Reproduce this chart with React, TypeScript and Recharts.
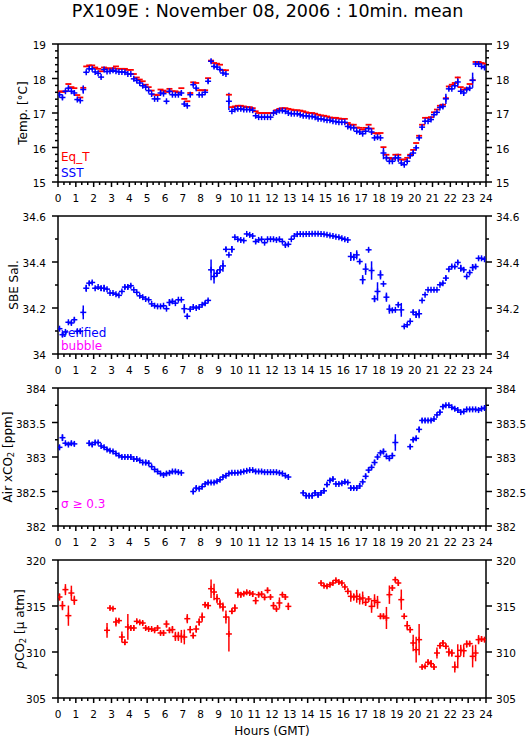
import React from 'react'
import { ComposedChart, Scatter, ErrorBar, XAxis, YAxis, Legend } from 'recharts'

const FONT = '"DejaVu Sans", Verdana, sans-serif'
const RED = '#ff0000'
const BLUE = '#0000ff'
const MAGENTA = '#ff00ff'

// time axis labels (hours GMT)
const hours = [0, 1, 2, 3, 4, 5, 6, 7, 8, 9, 10, 11, 12, 13, 14, 15, 16, 17, 18, 19, 20, 21, 22, 23, 24]

// major y ticks per panel
const tempTicks = [15, 16, 17, 18, 19]
const salTicks = [34, 34.2, 34.4, 34.6]
const airTicks = [382, 382.5, 383, 383.5, 384]
const pco2Ticks = [305, 310, 315, 320]

// 10-minute means, six per hour from 00:00 GMT (null = no data)
// Eq_T [°C]
const eqT = [
  17.63, 17.61, 17.63, 17.84, 17.75, 17.72,
  17.52, 17.45, 17.73, 18.35, 18.38, 18.38,
  18.32, 18.28, 18.21, 18.32, 18.30, 18.28,
  18.30, 18.35, 18.28, 18.28, 18.28, 18.25,
  18.25, 18.13, 18.03, 17.97, 17.92, 17.82,
  17.75, 17.65, 17.53, 17.52, 17.68, 17.65,
  17.61, 17.70, 17.63, 17.63, 17.60, 17.72,
  17.41, 17.34, 17.58, 17.89, 17.87, 17.66,
  17.66, 17.66, 18.01, 18.52, 18.45, 18.43,
  18.40, 18.24, 18.24, 17.53, 17.17, 17.19,
  17.21, 17.21, 17.19, 17.17, 17.17, 17.14,
  17.05, 17.00, 17.00, 17.00, 17.00, 17.00,
  17.00, 17.08, 17.12, 17.14, 17.14, 17.12,
  17.10, 17.08, 17.08, 17.07, 17.05, 17.02,
  17.00, 17.00, 16.98, 16.95, 16.93, 16.92,
  16.90, 16.87, 16.86, 16.86, 16.84, 16.83,
  16.83, 16.71, 16.66, 16.66, 16.58, 16.57,
  16.52, 16.57, 16.66, 16.55, 16.42, 16.40,
  16.42, 16.01, 15.79, 15.70, 15.67, 15.79,
  15.79, 15.65, 15.65, 15.70, 15.79, 15.93,
  16.13, 16.34, 16.66, 16.86, 16.86, 16.88,
  17.02, 17.10, 17.21, 17.24, 17.43, 17.77,
  17.82, 17.87, 18.03, 17.75, 17.68, 17.72,
  17.84, 17.95, 18.48, 18.48, 18.45, 18.43,
]

// SST [°C]
const sst = [
  17.53, 17.45, 17.63, 17.72, 17.63, 17.58,
  17.39, 17.36, 17.68, 18.18, 18.28, 18.28,
  18.19, 18.15, 18.04, 18.26, 18.20, 18.21,
  18.24, 18.21, 18.19, 18.19, 18.18, 18.13,
  18.13, 17.99, 17.94, 17.87, 17.79, 17.75,
  17.65, 17.55, 17.41, 17.41, 17.58, 17.56,
  17.34, 17.63, 17.53, 17.53, 17.53, 17.58,
  17.26, 17.21, 17.53, 17.82, 17.72, 17.53,
  17.53, 17.60, 17.92, 18.50, 18.35, 18.33,
  18.26, 18.16, 18.13, 17.34, 17.05, 17.10,
  17.12, 17.12, 17.10, 17.10, 17.10, 17.08,
  16.92, 16.88, 16.88, 16.88, 16.88, 16.88,
  17.00, 17.03, 17.07, 17.07, 17.05, 17.00,
  16.98, 16.98, 16.98, 16.95, 16.92, 16.92,
  16.90, 16.90, 16.88, 16.83, 16.83, 16.81,
  16.79, 16.79, 16.76, 16.75, 16.73, 16.73,
  16.73, 16.61, 16.58, 16.57, 16.47, 16.45,
  16.40, 16.47, 16.55, 16.45, 16.28, 16.30,
  16.28, 15.84, 15.70, 15.60, 15.60, 15.70,
  15.70, 15.55, 15.50, 15.60, 15.76, 15.84,
  15.99, 16.28, 16.59, 16.76, 16.76, 16.81,
  16.95, 17.02, 17.16, 17.19, 17.41, 17.70,
  17.70, 17.79, 17.90, 17.63, 17.58, 17.68,
  17.72, 17.95, 18.42, 18.42, 18.35, 18.32,
]

const sstErr = [
  0.03, 0.06, 0.03, 0.04, 0.03, 0.06,
  0.03, 0.03, 0.12, 0.03, 0.03, 0.03,
  0.03, 0.02, 0.03, 0.05, 0.02, 0.02,
  0.02, 0.02, 0.02, 0.02, 0.02, 0.02,
  0.03, 0.02, 0.02, 0.02, 0.02, 0.02,
  0.02, 0.02, 0.03, 0.03, 0.06, 0.02,
  0.03, 0.06, 0.03, 0.03, 0.03, 0.06,
  0.05, 0.04, 0.06, 0.03, 0.05, 0.03,
  0.02, 0.03, 0.06, 0.05, 0.05, 0.04,
  0.04, 0.03, 0.03, 0.25, 0.02, 0.02,
  0.02, 0.02, 0.02, 0.02, 0.02, 0.02,
  0.02, 0.02, 0.02, 0.02, 0.02, 0.02,
  0.02, 0.02, 0.02, 0.02, 0.02, 0.02,
  0.02, 0.02, 0.02, 0.02, 0.02, 0.02,
  0.02, 0.02, 0.02, 0.02, 0.02, 0.02,
  0.02, 0.02, 0.02, 0.02, 0.02, 0.02,
  0.02, 0.03, 0.02, 0.02, 0.03, 0.02,
  0.03, 0.02, 0.03, 0.04, 0.04, 0.04,
  0.02, 0.18, 0.06, 0.03, 0.03, 0.04,
  0.12, 0.04, 0.03, 0.04, 0.04, 0.08,
  0.05, 0.05, 0.08, 0.03, 0.02, 0.03,
  0.03, 0.03, 0.02, 0.05, 0.15, 0.04,
  0.03, 0.04, 0.15, 0.06, 0.05, 0.04,
  0.06, 0.22, 0.03, 0.03, 0.03, 0.03,
]

// SBE salinity
const sal = [
  34.110, 34.084, 34.096, 34.138, 34.135, 34.149,
  34.099, 34.099, 34.181, 34.286, 34.308, 34.311,
  34.286, 34.291, 34.286, 34.286, 34.282, 34.265,
  34.265, 34.260, 34.255, 34.272, 34.291, 34.291,
  34.297, 34.279, 34.268, 34.253, 34.247, 34.239,
  34.236, 34.218, 34.210, 34.207, 34.207, 34.210,
  34.197, 34.224, 34.229, 34.221, 34.236, 34.236,
  34.197, 34.164, 34.195, 34.204, 34.200, 34.204,
  34.214, 34.221, 34.233, 34.366, 34.337, 34.351,
  34.366, 34.383, 34.455, 34.431, 34.455, 34.508,
  34.499, 34.496, 34.493, 34.522, 34.518, 34.513,
  34.489, 34.496, 34.499, 34.484, 34.499, 34.499,
  34.499, 34.496, 34.499, 34.489, 34.474, 34.477,
  34.499, 34.513, 34.521, 34.522, 34.521, 34.522,
  34.522, 34.523, 34.523, 34.523, 34.522, 34.521,
  34.518, 34.515, 34.513, 34.510, 34.508, 34.503,
  34.499, 34.496, 34.424, 34.421, 34.431, 34.402,
  34.323, 34.369, 34.453, 34.363, 34.240, 34.272,
  34.344, 34.305, 34.247, 34.195, 34.190, 34.192,
  34.214, 34.192, 34.120, 34.127, 34.142, 34.182,
  34.171, 34.175, 34.233, 34.258, 34.279, 34.279,
  34.279, 34.279, 34.301, 34.308, 34.330, 34.369,
  34.380, 34.380, 34.398, 34.373, 34.366, 34.337,
  34.354, 34.376, 34.380, 34.416, 34.416, 34.412,
]

const salErr = [
  0.005, 0.010, 0.005, 0.005, 0.008, 0.010,
  0.010, 0.010, 0.030, 0.015, 0.008, 0.006,
  0.004, 0.004, 0.012, 0.015, 0.004, 0.004,
  0.004, 0.004, 0.004, 0.004, 0.008, 0.010,
  0.006, 0.004, 0.004, 0.004, 0.004, 0.004,
  0.004, 0.004, 0.004, 0.004, 0.004, 0.004,
  0.004, 0.015, 0.010, 0.004, 0.004, 0.004,
  0.020, 0.010, 0.010, 0.004, 0.004, 0.006,
  0.004, 0.008, 0.006, 0.045, 0.030, 0.015,
  0.015, 0.025, 0.010, 0.005, 0.015, 0.004,
  0.004, 0.004, 0.004, 0.004, 0.004, 0.004,
  0.008, 0.004, 0.004, 0.004, 0.004, 0.004,
  0.004, 0.004, 0.006, 0.004, 0.008, 0.006,
  0.004, 0.004, 0.004, 0.004, 0.004, 0.004,
  0.004, 0.004, 0.004, 0.004, 0.004, 0.004,
  0.004, 0.004, 0.004, 0.004, 0.004, 0.004,
  0.004, 0.004, 0.020, 0.015, 0.020, 0.010,
  0.020, 0.025, 0.006, 0.040, 0.015, 0.040,
  0.020, 0.004, 0.020, 0.020, 0.006, 0.004,
  0.010, 0.030, 0.006, 0.004, 0.006, 0.010,
  0.015, 0.020, 0.004, 0.004, 0.004, 0.004,
  0.004, 0.004, 0.004, 0.006, 0.010, 0.006,
  0.006, 0.006, 0.010, 0.015, 0.010, 0.006,
  0.010, 0.015, 0.010, 0.006, 0.004, 0.004,
]

// air xCO2 [ppm]
const airXco2 = [
  383.14, 383.28, 383.20, 383.18, 383.20, 383.19,
  null, null, null, null, 383.20, 383.18,
  383.21, 383.21, 383.16, 383.14, 383.11, 383.09,
  383.08, 383.05, 383.02, 383.00, 383.00, 383.00,
  383.00, 382.97, 382.97, 382.95, 382.92, 382.92,
  382.91, 382.86, 382.82, 382.79, 382.76, 382.74,
  382.76, 382.77, 382.79, 382.79, 382.78, 382.77,
  null, null, null, 382.50, 382.55, 382.54,
  382.57, 382.61, 382.63, 382.63, 382.63, 382.65,
  382.67, 382.71, 382.73, 382.76, 382.77, 382.77,
  382.77, 382.78, 382.79, 382.80, 382.81, 382.81,
  382.79, 382.79, 382.79, 382.78, 382.78, 382.78,
  382.78, 382.78, 382.77, 382.76, 382.73, 382.71,
  null, null, null, null, 382.48, 382.44,
  382.44, 382.44, 382.48, 382.45, 382.48, 382.51,
  382.60, 382.66, 382.68, 382.61, 382.61, 382.62,
  382.64, 382.63, 382.55, 382.55, 382.55, 382.58,
  382.64, 382.72, 382.81, 382.85, 382.92, 383.00,
  383.06, 383.08, 383.01, 382.98, 383.02, 383.21,
  null, null, null, null, 383.15, 383.25,
  383.27, 383.40, 383.53, 383.53, 383.53, 383.53,
  383.55, 383.61, 383.65, 383.73, 383.75, 383.75,
  383.72, 383.70, 383.68, 383.65, 383.66, 383.69,
  383.69, 383.69, 383.69, 383.68, 383.70, 383.71,
]

const airErr = [
  0.03, 0.05, 0.02, 0.02, 0.03, 0.03,
  null, null, null, null, 0.04, 0.03,
  0.03, 0.02, 0.02, 0.02, 0.02, 0.02,
  0.02, 0.02, 0.02, 0.02, 0.02, 0.02,
  0.02, 0.02, 0.02, 0.02, 0.02, 0.04,
  0.04, 0.02, 0.02, 0.02, 0.02, 0.02,
  0.03, 0.02, 0.02, 0.03, 0.02, 0.02,
  null, null, null, 0.04, 0.03, 0.02,
  0.02, 0.02, 0.03, 0.02, 0.02, 0.02,
  0.02, 0.02, 0.02, 0.02, 0.02, 0.02,
  0.02, 0.02, 0.02, 0.02, 0.02, 0.02,
  0.02, 0.02, 0.02, 0.02, 0.02, 0.02,
  0.02, 0.02, 0.02, 0.02, 0.02, 0.02,
  null, null, null, null, 0.03, 0.04,
  0.04, 0.04, 0.04, 0.03, 0.03, 0.04,
  0.03, 0.03, 0.03, 0.02, 0.02, 0.02,
  0.03, 0.02, 0.03, 0.03, 0.03, 0.04,
  0.03, 0.04, 0.04, 0.03, 0.04, 0.03,
  0.03, 0.04, 0.03, 0.03, 0.04, 0.12,
  null, null, null, null, 0.03, 0.03,
  0.03, 0.04, 0.03, 0.03, 0.02, 0.02,
  0.02, 0.02, 0.03, 0.03, 0.02, 0.02,
  0.02, 0.02, 0.02, 0.02, 0.03, 0.02,
  0.02, 0.02, 0.02, 0.02, 0.02, 0.03,
]

// pCO2 [µatm]
const pco2 = [
  315.98, 315.04, 316.78, 313.95, 316.41, 315.62,
  null, null, null, null, null, null,
  null, null, null, null, 312.36, 314.78,
  314.71, 313.26, 313.41, 311.63, 311.05, 312.72,
  312.61, 312.61, 313.33, 313.22, 313.15, 312.61,
  312.50, 312.50, 312.36, 312.61, 312.07, 312.07,
  313.04, 312.36, 312.43, 311.70, 311.70, 311.70,
  311.63, 313.62, 312.43, 311.78, 312.50, 313.26,
  313.80, 315.14, 315.04, 316.88, 316.52, 315.80,
  315.22, 314.89, 313.80, 311.96, 314.42, 314.78,
  316.41, 316.23, 316.34, 316.49, 316.41, 316.30,
  315.58, 316.23, 316.30, 315.94, 316.70, 315.98,
  315.04, 314.67, 315.33, 316.23, 315.98, 314.96,
  null, null, null, null, null, null,
  null, null, null, null, 317.50, 317.21,
  317.14, 317.32, 317.50, 317.79, 317.61, 317.50,
  317.07, 316.59, 316.05, 315.98, 316.05, 315.76,
  315.87, 315.40, 315.76, 314.96, 315.58, 315.40,
  313.88, 313.88, 313.70, 316.23, 316.96, 317.86,
  317.50, 315.69, 313.88, 312.86, 312.43, 310.98,
  310.25, 311.34, 308.37, 308.44, 308.88, 308.73,
  308.37, 309.89, 310.69, 310.98, 310.62, 310.00,
  309.89, 308.37, 309.53, 310.18, 310.14, 310.87,
  310.91, 309.53, 309.89, 311.34, 311.41, 311.34,
]

const pco2Err = [
  0.4, 0.5, 0.6, 1.1, 0.8, 0.5,
  null, null, null, null, null, null,
  null, null, null, null, 0.8, 0.2,
  0.15, 0.5, 0.2, 0.6, 0.3, 1.4,
  0.3, 0.3, 0.2, 0.2, 0.2, 0.2,
  0.15, 0.15, 0.2, 0.2, 0.2, 0.3,
  0.4, 0.3, 0.4, 0.5, 0.5, 0.7,
  0.8, 0.5, 0.4, 0.3, 0.4, 0.4,
  0.5, 0.3, 0.4, 1.0, 0.9, 0.5,
  0.5, 0.5, 0.7, 1.9, 0.3, 0.4,
  0.5, 0.3, 0.2, 0.2, 0.2, 0.3,
  0.4, 0.3, 0.2, 0.3, 0.3, 0.2,
  0.4, 0.2, 0.6, 0.2, 0.3, 0.4,
  null, null, null, null, null, null,
  null, null, null, null, 0.2, 0.2,
  0.2, 0.2, 0.2, 0.2, 0.2, 0.2,
  0.2, 0.3, 0.6, 0.4, 0.7, 0.6,
  0.7, 0.4, 0.3, 0.7, 0.7, 0.7,
  0.3, 0.3, 1.2, 1.0, 0.3, 0.3,
  0.3, 1.1, 0.3, 0.5, 0.3, 0.9,
  1.4, 1.7, 0.2, 0.2, 0.3, 0.4,
  0.3, 0.6, 0.3, 0.3, 0.3, 0.5,
  0.4, 0.6, 1.3, 0.6, 0.7, 0.4,
  0.3, 1.2, 0.9, 0.5, 0.3, 0.2,
]

// flagged points (none on this day)
const bubbleFlagged: (number | null)[] = []
const sigmaFlagged: (number | null)[] = []

const rows = (vals: (number | null)[], errs?: (number | null)[]) =>
  vals
    .map((v, i) => ({ t: (i + 0.5) / 6, v, e: errs ? errs[i] ?? 0 : 0 }))
    .filter((r) => r.v !== null)

const W = 529
const PLOT_H = 138
const TOP_PAD = 20
const BOTTOM_PAD = 30

const timeTicks = Array.from({ length: 73 }, (_, i) => i / 3)

const stepTicks = (majors: number[], step: number) => {
  const lo = majors[0]
  const n = Math.round((majors[majors.length - 1] - lo) / step)
  return Array.from({ length: n + 1 }, (_, i) => lo + i * step)
}

const findMajor = (v: number, majors: number[]) => majors.find((m) => Math.abs(m - v) < 1e-6)

const tickText = { fontFamily: FONT, fontSize: 10.5, fill: '#000' }
const axisLine = { stroke: '#000', strokeWidth: 1.5 }

function BottomTick({ x, y, payload }: any) {
  const m = findMajor(payload.value, hours)
  return (
    <g>
      <line x1={x} x2={x} y1={y} y2={y + (m !== undefined ? 5 : 3)} stroke="#000" strokeWidth={1.5} />
      {m !== undefined && (
        <text x={x} y={y + 20} textAnchor="middle" {...tickText}>
          {m}
        </text>
      )}
    </g>
  )
}

function TopTick({ x, y, payload }: any) {
  const m = findMajor(payload.value, hours)
  return <line x1={x} x2={x} y1={y} y2={y - (m !== undefined ? 5 : 3)} stroke="#000" strokeWidth={1.5} />
}

const sideTick = (majors: number[], side: 'left' | 'right') => ({ x, y, payload }: any) => {
  const m = findMajor(payload.value, majors)
  const dir = side === 'left' ? -1 : 1
  const len = m !== undefined ? 6 : 3
  return (
    <g>
      <line x1={x} x2={x + dir * len} y1={y} y2={y} stroke="#000" strokeWidth={1.5} />
      {m !== undefined && (
        <text x={side === 'left' ? x - 12 : x + 10} y={y + 5} textAnchor={side === 'left' ? 'end' : 'start'} {...tickText}>
          {String(m)}
        </text>
      )}
    </g>
  )
}

const titleText = { fontFamily: FONT, fontSize: 12, fill: '#000' }

function yTitle(kind: string, tx: number) {
  return (props: any) => {
    const vb = props.viewBox
    const cy = vb.y + vb.height / 2
    let content: React.ReactNode = null
    if (kind === 'temp') content = 'Temp. [°C]'
    if (kind === 'sal') content = 'SBE Sal.'
    if (kind === 'air')
      content = (
        <>
          Air xCO<tspan dy={3} fontSize={8.5}>2</tspan>
          <tspan dy={-3}> [ppm]</tspan>
        </>
      )
    if (kind === 'pco2')
      content = (
        <>
          <tspan fontStyle="italic">p</tspan>CO<tspan dy={3} fontSize={8.5}>2</tspan>
          <tspan dy={-3}> [μ atm]</tspan>
        </>
      )
    return (
      <text x={tx} y={cy} transform={`rotate(-90 ${tx} ${cy})`} textAnchor="middle" dominantBaseline="central" {...titleText}>
        {content}
      </text>
    )
  }
}

const xTitle = (props: any) => {
  const vb = props.viewBox
  return (
    <text x={vb.x + vb.width / 2} y={vb.y + 37} textAnchor="middle" {...titleText}>
      Hours (GMT)
    </text>
  )
}

const legendContent = (items: { name: string; color: string }[], lineHeight: number) => () => (
  <div style={{ fontFamily: FONT, fontSize: 12, lineHeight: `${lineHeight}px`, whiteSpace: 'nowrap' }}>
    {items.map((it) => (
      <div key={it.name} style={{ color: it.color }}>
        {it.name}
      </div>
    ))}
  </div>
)

// plotting marks: "+" for measured values, "-" for Eq_T
const crossShape = (color: string) => (p: any) => (
  <g>
    <line x1={p.cx - 3} x2={p.cx + 3} y1={p.cy} y2={p.cy} stroke={color} strokeWidth={1.5} />
    <line x1={p.cx} x2={p.cx} y1={p.cy - 3} y2={p.cy + 3} stroke={color} strokeWidth={1.5} />
  </g>
)
const dashShape = (color: string) => (p: any) => (
  <line x1={p.cx - 3} x2={p.cx + 3} y1={p.cy} y2={p.cy} stroke={color} strokeWidth={1.8} />
)

function Panel({ top, domain, majors, minorStep, kind, titleX, legend, legendTop, legendLine, xLabel, children }: any) {
  const bottomH = xLabel ? 45 : BOTTOM_PAD
  const yTicks = stepTicks(majors, minorStep)
  return (
    <div style={{ position: 'absolute', left: 0, top: top - TOP_PAD }}>
      <ComposedChart width={W} height={TOP_PAD + PLOT_H + bottomH} margin={{ top: 0, right: 13, bottom: 0, left: 28 }}>
        <XAxis
          xAxisId="b"
          type="number"
          dataKey="t"
          domain={[0, 24]}
          ticks={timeTicks}
          interval={0}
          height={bottomH}
          tickSize={0}
          tickMargin={0}
          tickLine={false}
          axisLine={axisLine}
          tick={BottomTick}
          allowDataOverflow
          label={xLabel ? xTitle : undefined}
        />
        <XAxis
          xAxisId="t"
          orientation="top"
          type="number"
          domain={[0, 24]}
          ticks={timeTicks}
          interval={0}
          height={TOP_PAD}
          tickSize={0}
          tickMargin={0}
          tickLine={false}
          axisLine={axisLine}
          tick={TopTick}
          allowDataOverflow
        />
        <YAxis
          yAxisId="l"
          type="number"
          dataKey="v"
          domain={domain}
          ticks={yTicks}
          interval={0}
          width={30}
          tickSize={0}
          tickMargin={0}
          tickLine={false}
          axisLine={axisLine}
          tick={sideTick(majors, 'left')}
          allowDataOverflow
          label={yTitle(kind, titleX)}
        />
        <YAxis
          yAxisId="r"
          orientation="right"
          type="number"
          domain={domain}
          ticks={yTicks}
          interval={0}
          width={30}
          tickSize={0}
          tickMargin={0}
          tickLine={false}
          axisLine={axisLine}
          tick={sideTick(majors, 'right')}
          allowDataOverflow
        />
        {children}
        {legend && (
          <Legend
            layout="vertical"
            align="center"
            verticalAlign="middle"
            wrapperStyle={{ left: 61, top: legendTop, width: 'auto' }}
            content={legendContent(legend, legendLine)}
          />
        )}
      </ComposedChart>
    </div>
  )
}

export default function App() {
  return (
    <div style={{ position: 'absolute', left: 0, top: 0, width: W, height: 739, background: '#fff' }}>
      <svg width={W} height={26} style={{ position: 'absolute', left: 0, top: 0 }}>
        <text x={267.5} y={17.3} textAnchor="middle" fontFamily={FONT} fontSize={17.5} fill="#000">
          PX109E : November 08, 2006 : 10min. mean
        </text>
      </svg>

      <Panel
        top={44}
        domain={[15, 19]}
        majors={tempTicks}
        minorStep={0.2}
        kind="temp"
        titleX={22.5}
        legend={[{ name: 'Eq_T', color: RED }, { name: 'SST', color: BLUE }]}
        legendTop={125}
        legendLine={16}
      >
        <Scatter xAxisId="b" yAxisId="l" name="Eq_T" data={rows(eqT)} dataKey="v" fill={RED} shape={dashShape(RED)} isAnimationActive={false} />
        <Scatter xAxisId="b" yAxisId="l" name="SST" data={rows(sst, sstErr)} dataKey="v" fill={BLUE} shape={crossShape(BLUE)} isAnimationActive={false}>
          <ErrorBar dataKey="e" direction="y" width={0} stroke={BLUE} strokeWidth={1.5} />
        </Scatter>
      </Panel>

      <Panel
        top={216}
        domain={[34, 34.6]}
        majors={salTicks}
        minorStep={0.1}
        kind="sal"
        titleX={13.8}
        legend={[{ name: 'verified', color: BLUE }, { name: 'bubble', color: MAGENTA }]}
        legendTop={131}
        legendLine={12.5}
      >
        <Scatter xAxisId="b" yAxisId="l" name="verified" data={rows(sal, salErr)} dataKey="v" fill={BLUE} shape={crossShape(BLUE)} isAnimationActive={false}>
          <ErrorBar dataKey="e" direction="y" width={0} stroke={BLUE} strokeWidth={1.5} />
        </Scatter>
        <Scatter xAxisId="b" yAxisId="l" name="bubble" data={rows(bubbleFlagged)} dataKey="v" fill={MAGENTA} shape={crossShape(MAGENTA)} isAnimationActive={false} />
      </Panel>

      <Panel
        top={388}
        domain={[382, 384]}
        majors={airTicks}
        minorStep={0.25}
        kind="air"
        titleX={8}
        legend={[{ name: 'σ ≥ 0.3', color: MAGENTA }]}
        legendTop={128}
        legendLine={16}
      >
        <Scatter xAxisId="b" yAxisId="l" name="air xCO2" data={rows(airXco2, airErr)} dataKey="v" fill={BLUE} shape={crossShape(BLUE)} isAnimationActive={false}>
          <ErrorBar dataKey="e" direction="y" width={0} stroke={BLUE} strokeWidth={1.5} />
        </Scatter>
        <Scatter xAxisId="b" yAxisId="l" name="σ ≥ 0.3" data={rows(sigmaFlagged)} dataKey="v" fill={MAGENTA} shape={crossShape(MAGENTA)} isAnimationActive={false} />
      </Panel>

      <Panel top={560} domain={[305, 320]} majors={pco2Ticks} minorStep={2.5} kind="pco2" titleX={19.5} xLabel>
        <Scatter xAxisId="b" yAxisId="l" name="pCO2" data={rows(pco2, pco2Err)} dataKey="v" fill={RED} shape={crossShape(RED)} isAnimationActive={false}>
          <ErrorBar dataKey="e" direction="y" width={0} stroke={RED} strokeWidth={1.5} />
        </Scatter>
      </Panel>
    </div>
  )
}
